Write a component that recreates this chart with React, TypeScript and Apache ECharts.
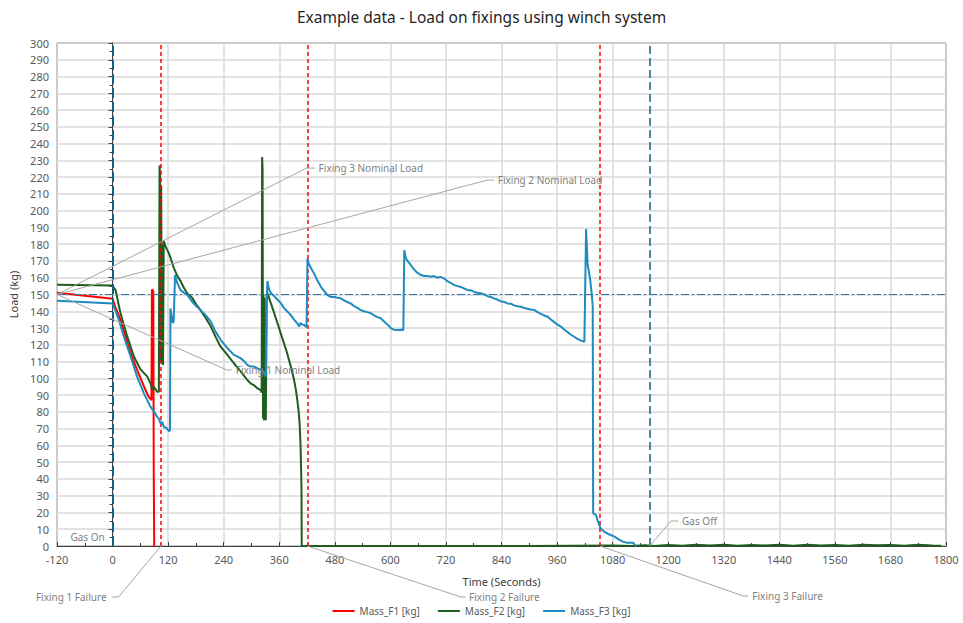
import React, { useEffect, useRef } from "react";
import * as echarts from "echarts";

const chartTitle = "Example data - Load on fixings using winch system";
const xAxisName = "Time (Seconds)";
const yAxisName = "Load (kg)";
const seriesNames = ["Mass_F1 [kg]", "Mass_F2 [kg]", "Mass_F3 [kg]"];
const seriesColors = ["#ff0000", "#1f5c1f", "#1f8ac0"];

// Mass_F1
const f1Time = [-120, 0, 3, 6, 17, 28, 39, 53, 68, 78, 84, 85, 88, 89, 90];
const f1Load = [151, 147.5, 145, 142.5, 135, 125, 115, 105, 95, 89, 87, 153, 152, 40, 0];

// Mass_F2
const f2Time = [
  -120, 0, 3, 6.5, 17, 31.7, 46, 60, 75, 82, 86, 88, 92, 96, 100, 101.5, 102.5, 104, 105, 106.5, 108, 109, 110.5,
  114, 118, 121, 125, 132, 140, 147, 154, 161, 172, 181, 190, 200, 212, 222, 233, 248, 262, 277, 291, 298, 305, 313,
  320, 322, 323, 324, 325, 326, 327, 328, 329, 330, 331, 333, 334.5, 341.6, 349, 356, 363, 370, 376, 381, 387, 392,
  396, 399, 402, 404, 406, 407, 408, 408.6, 500, 700, 900, 1080, 1120, 1150, 1170, 1200, 1230, 1260, 1290, 1320,
  1350, 1380, 1410, 1440, 1470, 1500, 1530, 1560, 1590, 1620, 1650, 1680, 1710, 1740, 1770, 1790,
];
const f2Load = [
  155.8, 155.3, 154, 152.6, 139, 125, 113, 105.5, 101, 97, 93, 95, 94, 92, 92, 227, 222, 110, 215, 109, 180, 108, 182,
  179, 176.5, 175, 172, 166, 161, 158, 154, 150.7, 148, 144, 140.7, 136.5, 131, 125, 119, 114, 109, 104, 99, 97, 96, 94,
  93, 91.5, 232, 225, 76, 150, 75, 148, 75, 100, 75, 150, 151, 145, 139, 133, 127, 121, 116, 111, 105, 99,
  93, 87, 80, 73, 60, 48, 35, 0, 0, 0, 0, 0.3, 0, 0.5, 0, 0.6, 0.2, 0.7, 0.3, 0.8,
  0.2, 0.6, 0.3, 0.7, 0.2, 0.8, 0.3, 0.6, 0.2, 0.7, 0.4, 0.6, 0.2, 0.7, 0.3, 0.2,
];

// Mass_F3
const f3Time = [
  -120, 0, 3, 8, 13.6, 24.5, 39, 53, 67.7, 82, 90, 96.6, 100, 104, 107, 111, 116, 122, 124, 125, 127, 130, 132, 135,
  140, 147, 154, 161.5, 172, 181, 190, 200, 212, 222, 233.5, 248, 262, 270, 277, 285, 291, 298, 305.5, 313, 320, 326,
  331, 332, 334.5, 338, 341.6, 349, 356, 363, 370, 377, 385, 392, 399, 403, 406, 410, 414, 419, 421, 424, 430, 435,
  443, 450, 457, 464, 472, 480, 486, 493, 500, 507, 514, 522, 529, 536, 543, 550, 558, 565, 572, 579, 586, 594, 601,
  608, 615, 622, 628, 630, 633, 637, 644, 651, 658, 666, 673, 680, 687, 694, 701, 708, 716, 723, 730, 738, 745, 752,
  760, 767, 774, 781, 788, 795.7, 803, 810, 817, 824, 831, 838, 846, 853, 860, 867, 875, 882, 889, 896, 903, 911, 918,
  925, 932, 940, 947, 954, 961, 968.6, 976, 983, 990, 997, 1004, 1012, 1019, 1022.7, 1026, 1031, 1035, 1037, 1038,
  1044, 1048, 1054, 1062, 1072, 1084, 1093, 1102, 1110, 1124, 1128, 1130,
];
const f3Load = [
  146.3, 144.7, 142.7, 139, 134.8, 124.8, 113, 101, 91, 83, 80, 77, 76, 73, 74, 71, 70.5, 68.5, 69, 141.7, 138, 133,
  134, 161.6, 156.6, 152.6, 151, 149.7, 145.7, 143, 140.7, 138, 134, 128, 123, 118, 114, 113, 111.9, 110, 108, 107, 107,
  106, 105, 104, 101, 140, 158, 153, 151, 149, 147, 145, 142, 140, 137.7, 135, 132.8, 131, 133, 132, 131.8, 130.5,
  171.5, 168, 165, 162.6, 158, 154.6, 152, 149.7, 148.5, 148.5, 148, 147.7, 146.5, 145.5, 144.7, 143, 142, 140.7, 140,
  139.5, 138.8, 137.5, 136.5, 135.8, 134, 132, 130, 129, 128.8, 129, 128.8, 176.5, 172, 170, 167.6, 165, 163, 161.6,
  161, 161, 160.6, 161, 160, 160.5, 159.6, 158, 157, 155.6, 155, 154.5, 153.5, 152.6, 152.5, 151.5, 151, 150.7, 150,
  149, 148.5, 147.7, 147, 146, 145.5, 144.7, 144.5, 143.5, 143, 142.7, 142, 141.5, 141, 140.7, 139.5, 138.5, 137.5,
  136.7, 135, 133.5, 132, 130.8, 129, 127.5, 126, 124.8, 123.5, 122.5, 121.8, 189, 168, 160, 150, 143, 19.5, 18.5, 15,
  10.5, 8.5, 7, 5.6, 4, 2.6, 2, 2, 0.6, 0,
];

const gasOnTime = 0;
const gasOffTime = 1160;
const failureTimes = [104.5, 421, 1053];
const nominalLoad = 150;

const FONT = "'Noto Sans', 'Liberation Sans', sans-serif";

function zip(t: number[], v: number[]) {
  return t.map((x, i) => [x, v[i]]);
}

export default function App() {
  const ref = useRef<HTMLDivElement | null>(null);
  useEffect(() => {
    if (!ref.current) return;
    const chart = echarts.init(ref.current, undefined, { renderer: "svg" });
    const lineSeries = [zip(f1Time, f1Load), zip(f2Time, f2Load), zip(f3Time, f3Load)].map((d, i) => ({
      name: seriesNames[i],
      type: "line",
      data: d,
      symbol: "none",
      showSymbol: false,
      color: seriesColors[i],
      lineStyle: { width: 2, color: seriesColors[i] },
      z: 3 + i,
    }));
    chart.setOption({
      animation: false,
      title: {
        text: chartTitle,
        left: "center",
        top: 4,
        textStyle: { fontFamily: FONT, fontSize: 15.5, fontWeight: "normal", color: "#262626" },
      },
      grid: { left: 57, right: 17, top: 43, bottom: 77, show: true, borderColor: "#404040", borderWidth: 1, backgroundColor: "transparent" },
      legend: {
        data: seriesNames.map((n) => ({ name: n, icon: "rect" })),
        top: 605,
        left: "center",
        padding: 0,
        itemWidth: 22,
        itemHeight: 2,
        itemGap: 18,
        textStyle: { fontFamily: FONT, fontSize: 10, color: "#595959", lineHeight: 12 },
      },
      xAxis: {
        type: "value",
        min: -120,
        max: 1800,
        interval: 120,
        name: xAxisName,
        nameLocation: "middle",
        nameGap: 30,
        nameTextStyle: { fontFamily: FONT, fontSize: 11, color: "#404040" },
        axisLine: { show: true, onZero: false, lineStyle: { color: "#404040", width: 1 } },
        axisTick: { show: true, inside: true, length: 4, lineStyle: { color: "#404040" } },
        minorTick: { show: true, splitNumber: 2, length: 3, lineStyle: { color: "#404040" } },
        axisLabel: { fontFamily: FONT, fontSize: 11, color: "#595959", margin: 8, formatter: (v: number) => String(v) },
        splitLine: { show: true, lineStyle: { color: "#d9d9d9", width: 1.5 } },
      },
      yAxis: {
        type: "value",
        min: 0,
        max: 300,
        interval: 10,
        name: yAxisName,
        nameLocation: "middle",
        nameGap: 38,
        nameRotate: 90,
        nameTextStyle: { fontFamily: FONT, fontSize: 11, color: "#404040" },
        axisLine: { show: true, lineStyle: { color: "#404040", width: 1 } },
        axisTick: { show: true, inside: false, length: 4, lineStyle: { color: "#404040" } },
        minorTick: { show: true, splitNumber: 2, length: 3, lineStyle: { color: "#404040" } },
        axisLabel: { fontFamily: FONT, fontSize: 11, color: "#595959", margin: 8, formatter: (v: number) => String(v) },
        splitLine: { show: true, lineStyle: { color: "#d9d9d9", width: 1.5 } },
      },
      series: [
        {
          name: "refs",
          type: "line",
          data: [],
          silent: true,
          z: 2,
          markLine: {
            silent: true,
            symbol: "none",
            label: { show: false },
            animation: false,
            data: [
              { xAxis: gasOnTime, lineStyle: { color: "#156082", width: 2, type: [10, 4] } },
              { xAxis: gasOffTime, lineStyle: { color: "#156082", width: 1.5, type: [8, 4] } },
              ...failureTimes.map((t) => ({ xAxis: t, lineStyle: { color: "#ff0000", width: 1.5, type: [4, 3] } })),
              { yAxis: nominalLoad, lineStyle: { color: "#2e75b6", width: 1, type: [8, 3, 2, 3] } },
            ],
          },
        },
        ...lineSeries,
      ],
    });

    const p = (t: number, v: number) => chart.convertToPixel({ gridIndex: 0 }, [t, v]) as number[];
    const leader = "#a6a6a6";
    const txt = "#7f7f7f";
    type Ann = { pts: number[][]; text: string; at: number[]; align: string };
    const anns: Ann[] = [
      { pts: [[-120, 150], [419, 225.4], [437, 225.4]], text: "Fixing 3 Nominal Load", at: [445, 225.4], align: "left" },
      { pts: [[-120, 150], [808.6, 218.2], [824, 218.2]], text: "Fixing 2 Nominal Load", at: [832, 218.2], align: "left" },
      { pts: [[-120, 150], [246.5, 105], [257, 105]], text: "Fixing 1 Nominal Load", at: [266, 105], align: "left" },
      { pts: [[failureTimes[0], 0], [13, -30.4], [-2, -30.4]], text: "Fixing 1 Failure", at: [-13, -30.4], align: "right" },
      { pts: [[failureTimes[1], 0], [752, -30.4], [763, -30.4]], text: "Fixing 2 Failure", at: [770, -30.4], align: "left" },
      { pts: [[failureTimes[2], 0], [1362, -29.8], [1373, -29.8]], text: "Fixing 3 Failure", at: [1381.7, -29.8], align: "left" },
      { pts: [[gasOffTime, 0], [1206, 14.9], [1221.6, 14.9]], text: "Gas Off", at: [1230, 14.9], align: "left" },
      { pts: [], text: "Gas On", at: [-17, 5.4], align: "right" },
    ];
    const graphics: any[] = [];
    anns.forEach((a) => {
      if (a.pts.length) {
        graphics.push({
          type: "polyline",
          silent: true,
          z: 50,
          shape: { points: a.pts.map(([t, v]) => p(t, v)) },
          style: { stroke: leader, lineWidth: 1, fill: null },
        });
      }
      const [x, y] = p(a.at[0], a.at[1]);
      graphics.push({
        type: "text",
        silent: true,
        z: 51,
        x,
        y,
        style: {
          text: a.text,
          fill: txt,
          fontSize: 10,
          fontFamily: FONT,
          align: a.align,
          verticalAlign: "middle",
          textAlign: a.align,
          textVerticalAlign: "middle",
        },
      });
    });
    chart.setOption({ graphic: graphics });

    return () => chart.dispose();
  }, []);
  return <div ref={ref} style={{ position: "fixed", left: 0, top: 0, width: 963, height: 623, background: "#fff" }} />;
}
